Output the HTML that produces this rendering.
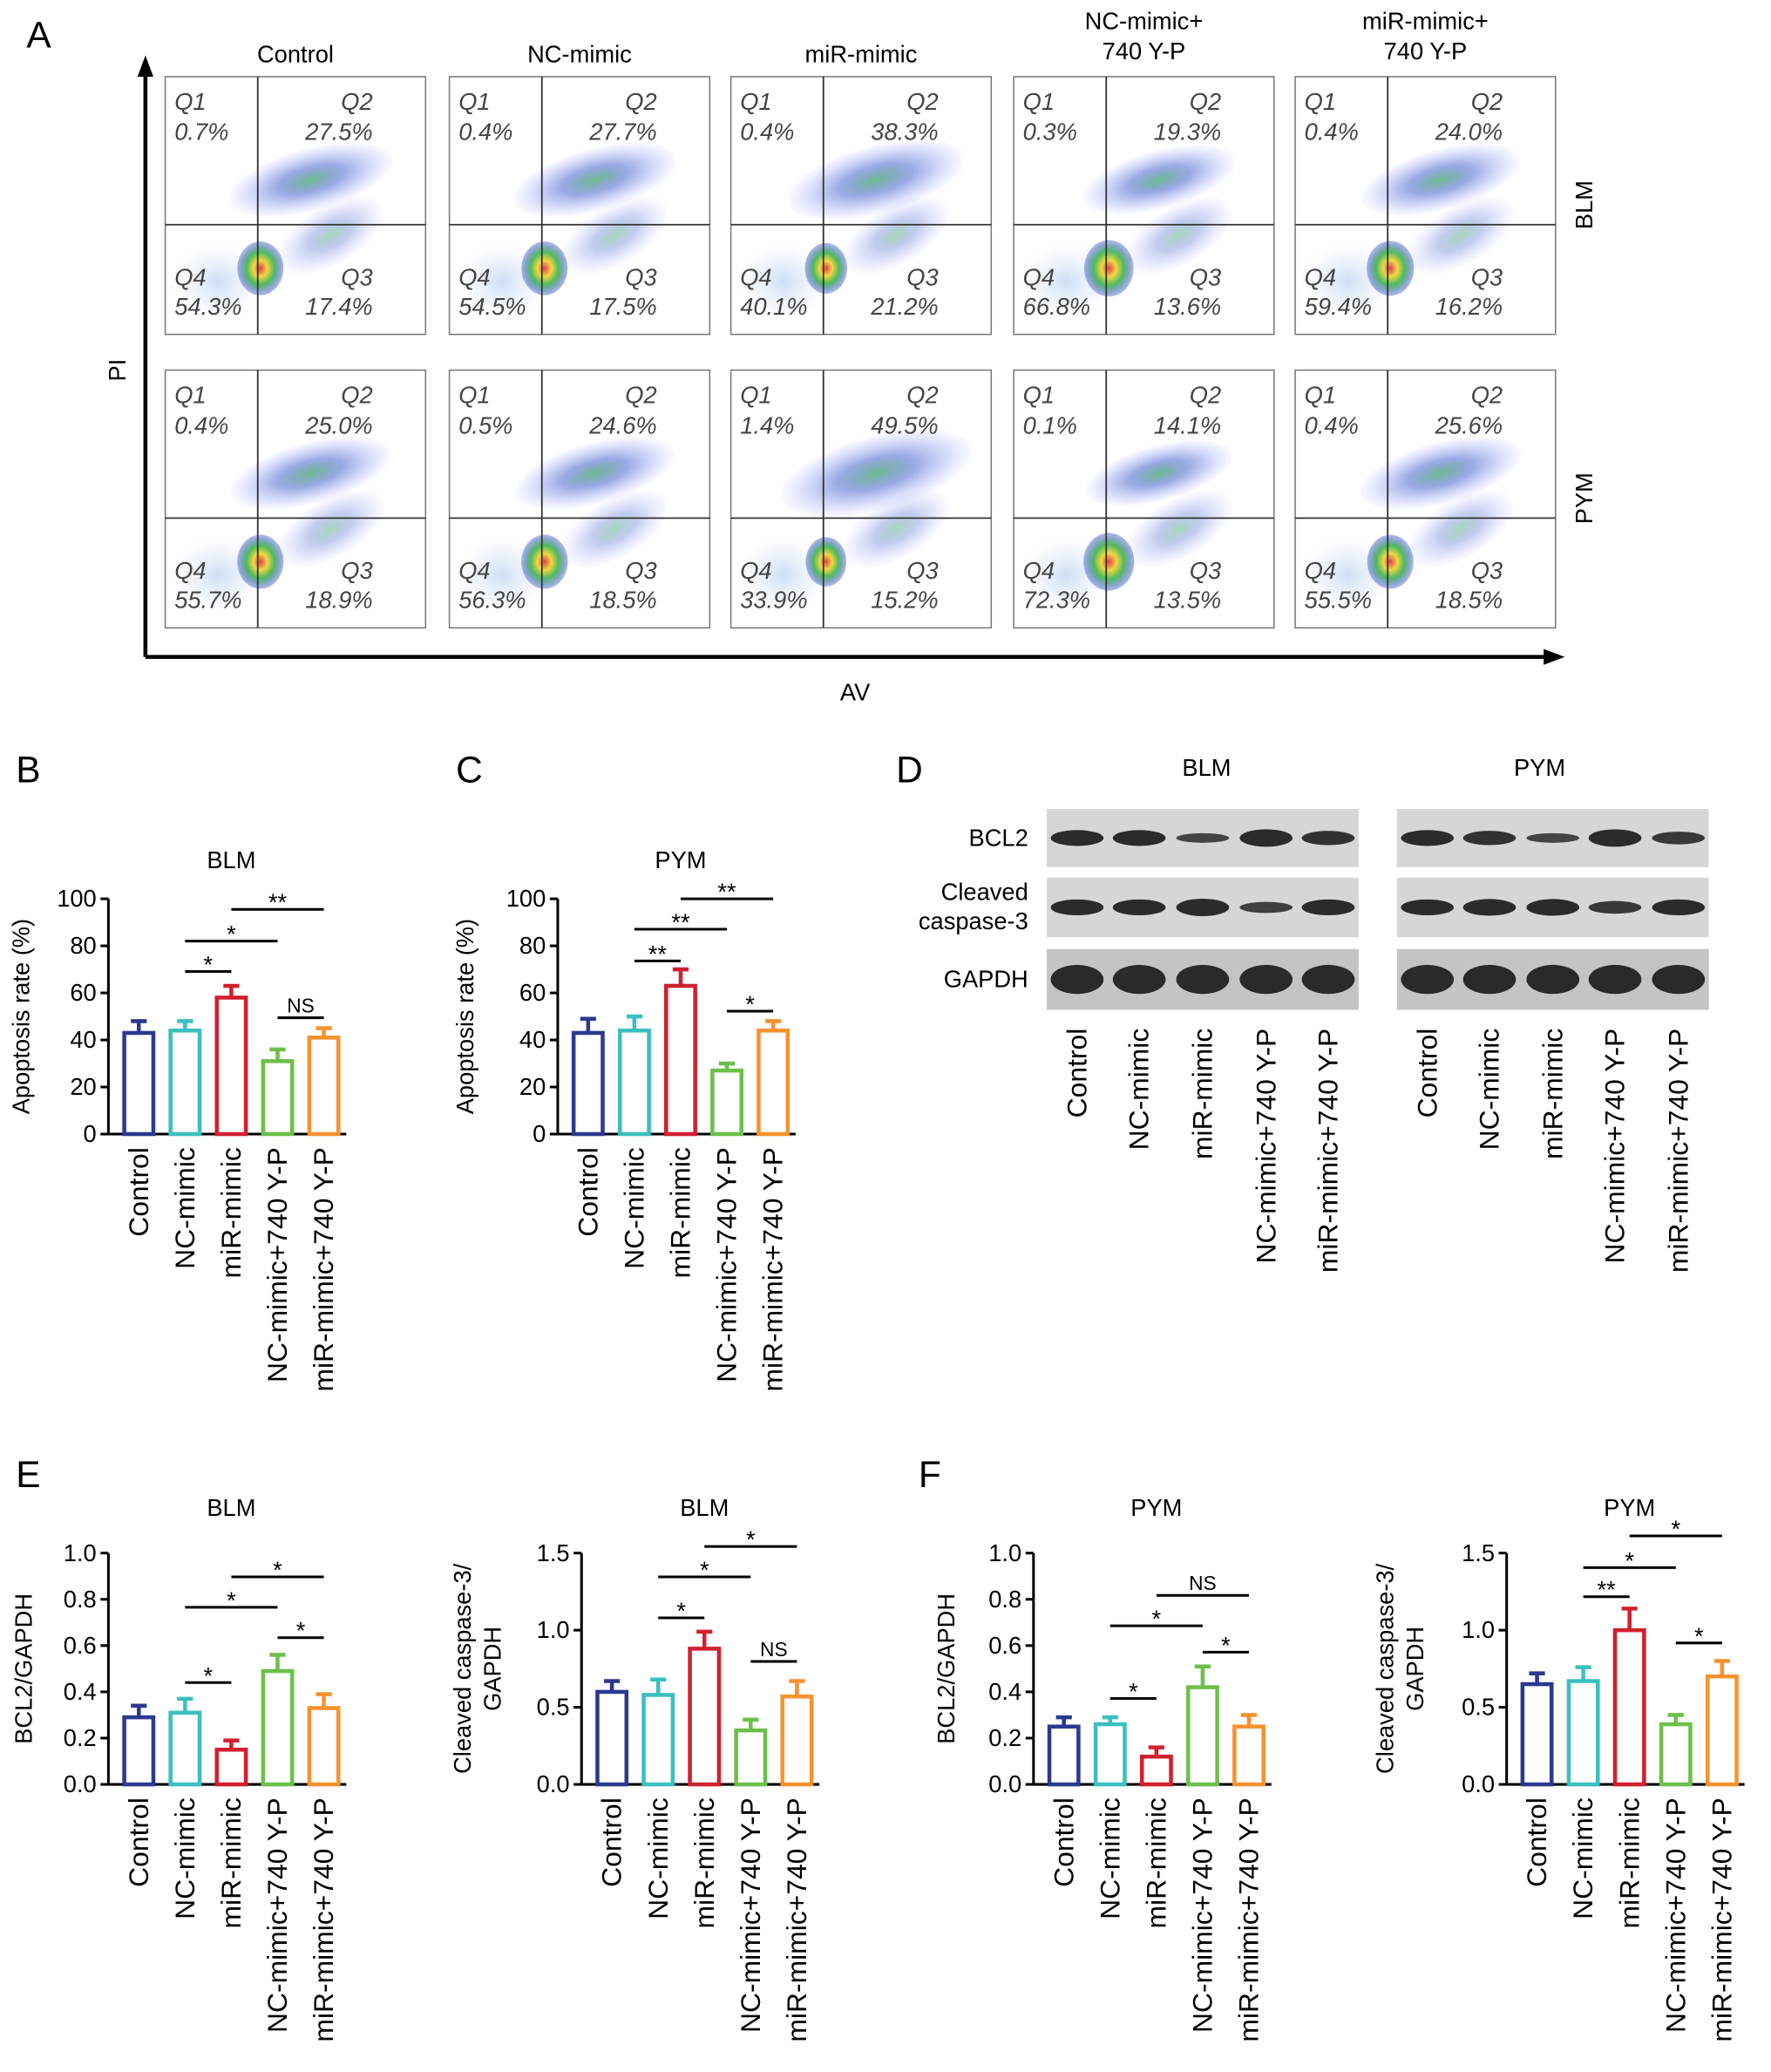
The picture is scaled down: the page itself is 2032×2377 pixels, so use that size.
<!DOCTYPE html>
<html><head><meta charset="utf-8">
<style>
html,body{margin:0;padding:0;background:#fff;}
svg{display:block;font-family:"Liberation Sans",Arial,sans-serif;}
</style></head>
<body>
<svg id="fig" width="2032" height="2377" viewBox="0 0 1340 1567.6" xmlns="http://www.w3.org/2000/svg">
<defs>
<radialGradient id="hot" cx="50%" cy="50%" r="50%">
<stop offset="0" stop-color="#e02020"/><stop offset="0.3" stop-color="#f0d020"/><stop offset="0.6" stop-color="#30b040"/><stop offset="1" stop-color="#2030d0" stop-opacity="0.4"/>
</radialGradient>
<radialGradient id="cool" cx="50%" cy="50%" r="50%">
<stop offset="0" stop-color="#30a060" stop-opacity="0.7"/><stop offset="0.4" stop-color="#2040c0" stop-opacity="0.45"/><stop offset="1" stop-color="#6070ff" stop-opacity="0.03"/>
</radialGradient>
<radialGradient id="pale" cx="50%" cy="50%" r="50%">
<stop offset="0" stop-color="#b8d0f0" stop-opacity="0.7"/><stop offset="1" stop-color="#d8e4f8" stop-opacity="0"/>
</radialGradient>
</defs>
<g id="panelA"></g>
<g id="panelD"></g>
<g id="charts"></g>
</svg>
<script>
const NS="http://www.w3.org/2000/svg";
const groups=["Control","NC-mimic","miR-mimic","NC-mimic+740 Y-P","miR-mimic+740 Y-P"];
const colors=["#2b3990","#3bbfc0","#d0202e","#6cc04a","#f7922f"];
const flowCols=["Control","NC-mimic","miR-mimic","NC-mimic+|740 Y-P","miR-mimic+|740 Y-P"];
const flowBLM=[["0.7%","27.5%","54.3%","17.4%"],["0.4%","27.7%","54.5%","17.5%"],["0.4%","38.3%","40.1%","21.2%"],["0.3%","19.3%","66.8%","13.6%"],["0.4%","24.0%","59.4%","16.2%"]];
const flowPYM=[["0.4%","25.0%","55.7%","18.9%"],["0.5%","24.6%","56.3%","18.5%"],["1.4%","49.5%","33.9%","15.2%"],["0.1%","14.1%","72.3%","13.5%"],["0.4%","25.6%","55.5%","18.5%"]];
// bar chart data
const bValues=[43,44,58,31,41]; const bErr=[5,4,5,5,4];
const cValues=[43,44,63,27,44]; const cErr=[6,6,7,3,4];
const e1Values=[0.29,0.31,0.15,0.49,0.33]; const e1Err=[0.05,0.06,0.04,0.07,0.06];
const e2Values=[0.60,0.58,0.88,0.35,0.57]; const e2Err=[0.07,0.10,0.11,0.07,0.10];
const f1Values=[0.25,0.26,0.12,0.42,0.25]; const f1Err=[0.04,0.03,0.04,0.09,0.05];
const f2Values=[0.65,0.67,1.00,0.39,0.70]; const f2Err=[0.07,0.09,0.14,0.06,0.10];
const ticks100=[0,20,40,60,80,100];
const ticks1=["0.0","0.2","0.4","0.6","0.8","1.0"];
const ticks15=["0.0","0.5","1.0","1.5"];
const bandBLM=[1,1,0.6,1.1,0.9,  1,1,1.1,0.7,1,  1,1,1,1,1];
const bandPYM=[1,0.9,0.6,1.1,0.8, 1,1.05,1.05,0.8,1, 1,1,1,1,1];

function el(tag,attrs,parent,text){const e=document.createElementNS(NS,tag);for(const k in attrs)e.setAttribute(k,attrs[k]);if(text!==undefined)e.textContent=text;parent.appendChild(e);return e;}
const A=document.getElementById('panelA');
const t=el('text',{x:20,y:36,'font-size':28},A,'A');


el('line',{x1:110,y1:497,x2:110,y2:55,stroke:'#000','stroke-width':3},A);
el('polygon',{points:'110,42 104,58 116,58',fill:'#000'},A);
el('line',{x1:110,y1:497,x2:1170,y2:497,stroke:'#000','stroke-width':3},A);
el('polygon',{points:'1184,497 1168,491 1168,503',fill:'#000'},A);
let pl=el('text',{x:95,y:280,'font-size':18,'text-anchor':'middle',transform:'rotate(-90 95 280)'},A,'PI');


let av=el('text',{x:647,y:530,'font-size':18,'text-anchor':'middle'},A,'AV');


const colX=[125,340,553,767,980]; const rowY=[58,280];
const rowData=[flowBLM,flowPYM]; const rowLab=["BLM","PYM"];
for(let r=0;r<2;r++){
  const rl=el('text',{x:1205,y:rowY[r]+97,'font-size':18,'text-anchor':'middle',transform:`rotate(-90 1205 ${rowY[r]+97})`},A,rowLab[r]);
  
  
  for(let c=0;c<5;c++){
    const x0=colX[c],y0=rowY[r],w=197,h=195;
    const g=el('g',{},A);
    
    
    el('rect',{x:x0,y:y0,width:w,height:h,fill:'#fff',stroke:'#777','stroke-width':1},g);
    const q=rowData[r][c];
    const q2=parseFloat(q[1]),q4=parseFloat(q[2]);
    el('ellipse',{cx:x0+40,cy:y0+h-40,rx:35,ry:30,fill:'url(#pale)'},g);
    el('ellipse',{cx:x0+110,cy:y0+78,rx:50+q2*0.5,ry:18+q2*0.2,fill:'url(#cool)',transform:`rotate(-15 ${x0+110} ${y0+78})`},g);
    el('ellipse',{cx:x0+125,cy:y0+120,rx:45,ry:22,fill:'url(#cool)',opacity:0.6,transform:`rotate(-30 ${x0+125} ${y0+120})`},g);
    el('ellipse',{cx:x0+72,cy:y0+145,rx:12+q4*0.1,ry:16+q4*0.08,fill:'url(#hot)',opacity:0.85},g);
    el('line',{x1:x0+70,y1:y0,x2:x0+70,y2:y0+h,stroke:'#333','stroke-width':1.2},g);
    el('line',{x1:x0,y1:y0+112,x2:x0+w,y2:y0+112,stroke:'#333','stroke-width':1.2},g);
    const ts={'font-size':18,'font-style':'italic',fill:'#444'};
    el('text',Object.assign({x:x0+7,y:y0+25},ts),g,'Q1');
    el('text',Object.assign({x:x0+7,y:y0+48},ts),g,q[0]);
    el('text',Object.assign({x:x0+w-40,y:y0+25,'text-anchor':'end'},ts),g,'Q2');
    el('text',Object.assign({x:x0+w-40,y:y0+48,'text-anchor':'end'},ts),g,q[1]);
    el('text',Object.assign({x:x0+7,y:y0+158},ts),g,'Q4');
    el('text',Object.assign({x:x0+7,y:y0+180},ts),g,q[2]);
    el('text',Object.assign({x:x0+w-40,y:y0+158,'text-anchor':'end'},ts),g,'Q3');
    el('text',Object.assign({x:x0+w-40,y:y0+180,'text-anchor':'end'},ts),g,q[3]);
    if(r===0){
      const parts=flowCols[c].split('|');
      const cx=x0+w/2;
      if(parts.length===1){const tt=el('text',{x:cx,y:47,'font-size':18,'text-anchor':'middle'},A,parts[0]);}
      else{el('text',{x:cx,y:22,'font-size':18,'text-anchor':'middle'},A,parts[0]);el('text',{x:cx,y:45,'font-size':18,'text-anchor':'middle'},A,parts[1]);}
    }
  }
}
// Western blots
const D=document.getElementById('panelD');
el('text',{x:678,y:592,'font-size':28},D,'D');
el('text',{x:913,y:587,'font-size':18,'text-anchor':'middle'},D,'BLM');
el('text',{x:1165,y:587,'font-size':18,'text-anchor':'middle'},D,'PYM');
const bRows=[["BCL2"],["Cleaved","caspase-3"],["GAPDH"]]; const bY=[612,664,718]; const bH=[44,45,46];
const boxes=[[792,bandBLM,[815,862,910,958,1005]],[1057,bandPYM,[1080,1127,1175,1222,1270]]];
bRows.forEach((lab,i)=>{
  if(lab.length===1) el('text',{x:778,y:bY[i]+bH[i]/2+6,'font-size':18,'text-anchor':'end'},D,lab[0]);
  else{el('text',{x:778,y:bY[i]+17,'font-size':18,'text-anchor':'end'},D,lab[0]);el('text',{x:778,y:bY[i]+39,'font-size':18,'text-anchor':'end'},D,lab[1]);}
  boxes.forEach(([bx,inten,lanes])=>{
    const g=el('g',{},D);
    
    
    el('rect',{x:bx,y:bY[i],width:236,height:bH[i],fill:i===2?'#c4c4c4':'#d6d6d6'},g);
    lanes.forEach((lx,j)=>{const v=inten[i*5+j];
      el('ellipse',{cx:lx,cy:bY[i]+bH[i]/2,rx:20,ry:(i===2?11:6)*v,fill:'#222',opacity:0.6+0.35*Math.min(v,1)},g);});
  });
});
boxes.forEach(([bx,inten,lanes])=>{lanes.forEach((lx,j)=>{
  const tt=el('text',{x:lx+7,y:778,'font-size':21,'text-anchor':'end',transform:`rotate(-90 ${lx+7} 778)`},D,groups[j]);
  
  
});});
// bar charts
const C=document.getElementById('charts');
function chart(o){
  const g=el('g',{},C);
  
  
  const y=v=>o.y0-(v/o.max)*(o.y0-o.y1);
  const xs=i=>o.ax+23+i*35;
  el('line',{x1:o.ax,y1:o.y0,x2:o.ax,y2:o.y1,stroke:'#000','stroke-width':2},g);
  el('line',{x1:o.ax,y1:o.y0,x2:xs(4)+17,y2:o.y0,stroke:'#000','stroke-width':2},g);
  o.ticks.forEach(tk=>{const v=parseFloat(tk);const yy=y(v);
    el('line',{x1:o.ax-6,y1:yy,x2:o.ax,y2:yy,stroke:'#000','stroke-width':2},g);
    el('text',{x:o.ax-9,y:yy+6,'font-size':18,'text-anchor':'end'},g,tk);});
  el('text',{x:xs(2),y:o.titleY,'font-size':18,'text-anchor':'middle'},g,o.title);
  o.ylab.forEach((s,k)=>{const lx=o.ylx+k*23,ly=(o.y0+o.y1)/2;
    el('text',{x:lx,y:ly,'font-size':18,'text-anchor':'middle',transform:`rotate(-90 ${lx} ${ly})`},g,s);});
  o.vals.forEach((v,i)=>{
    const b=el('rect',{x:xs(i)-11,y:y(v),width:22,height:o.y0-y(v),fill:'#fff',stroke:colors[i],'stroke-width':3},g);
    
    
    const ey=y(v+o.err[i]);
    el('line',{x1:xs(i),y1:y(v),x2:xs(i),y2:ey,stroke:colors[i],'stroke-width':3},g);
    el('line',{x1:xs(i)-6,y1:ey,x2:xs(i)+6,y2:ey,stroke:colors[i],'stroke-width':3},g);
    el('text',{x:xs(i)+7,y:o.y0+10,'font-size':21,'text-anchor':'end',transform:`rotate(-90 ${xs(i)+7} ${o.y0+10})`},g,groups[i]);
  });
  o.sig.forEach(([a,b,yy,s])=>{
    el('line',{x1:xs(a),y1:yy,x2:xs(b),y2:yy,stroke:'#000','stroke-width':2},g);
    el('text',{x:(xs(a)+xs(b))/2,y:yy-(s==='NS'?4:-1),'font-size':s==='NS'?15:18,'text-anchor':'middle'},g,s);
  });
}
el('text',{x:12,y:592,'font-size':28},C,'B');
el('text',{x:345,y:592,'font-size':28},C,'C');
el('text',{x:12,y:1125,'font-size':28},C,'E');
el('text',{x:695,y:1125,'font-size':28},C,'F');
chart({name:'chart-b-blm',ax:82,y0:858,y1:680,max:100,ticks:ticks100.map(String),vals:bValues,err:bErr,title:'BLM',titleY:657,ylab:['Apoptosis rate (%)'],ylx:22,
  sig:[[2,4,688,'**'],[1,3,712,'*'],[1,2,735,'*'],[3,4,770,'NS']]});
chart({name:'chart-c-pym',ax:422,y0:858,y1:680,max:100,ticks:ticks100.map(String),vals:cValues,err:cErr,title:'PYM',titleY:657,ylab:['Apoptosis rate (%)'],ylx:358,
  sig:[[2,4,680,'**'],[1,3,703,'**'],[1,2,727,'**'],[3,4,765,'*']]});
chart({name:'chart-e-bcl2-blm',ax:82,y0:1350,y1:1175,max:1,ticks:ticks1,vals:e1Values,err:e1Err,title:'BLM',titleY:1147,ylab:['BCL2/GAPDH'],ylx:24,
  sig:[[2,4,1193,'*'],[1,3,1216,'*'],[3,4,1239,'*'],[1,2,1273,'*']]});
chart({name:'chart-e-caspase-blm',ax:440,y0:1350,y1:1175,max:1.5,ticks:ticks15,vals:e2Values,err:e2Err,title:'BLM',titleY:1147,ylab:['Cleaved caspase-3/','GAPDH'],ylx:356,
  sig:[[2,4,1170,'*'],[1,3,1193,'*'],[1,2,1224,'*'],[3,4,1257,'NS']]});
chart({name:'chart-f-bcl2-pym',ax:782,y0:1350,y1:1175,max:1,ticks:ticks1,vals:f1Values,err:f1Err,title:'PYM',titleY:1147,ylab:['BCL2/GAPDH'],ylx:722,
  sig:[[2,4,1207,'NS'],[1,3,1230,'*'],[3,4,1250,'*'],[1,2,1285,'*']]});
chart({name:'chart-f-caspase-pym',ax:1140,y0:1350,y1:1175,max:1.5,ticks:ticks15,vals:f2Values,err:f2Err,title:'PYM',titleY:1147,ylab:['Cleaved caspase-3/','GAPDH'],ylx:1054,
  sig:[[2,4,1162,'*'],[1,3,1186,'*'],[1,2,1208,'**'],[3,4,1243,'*']]});
</script>
</body></html>
